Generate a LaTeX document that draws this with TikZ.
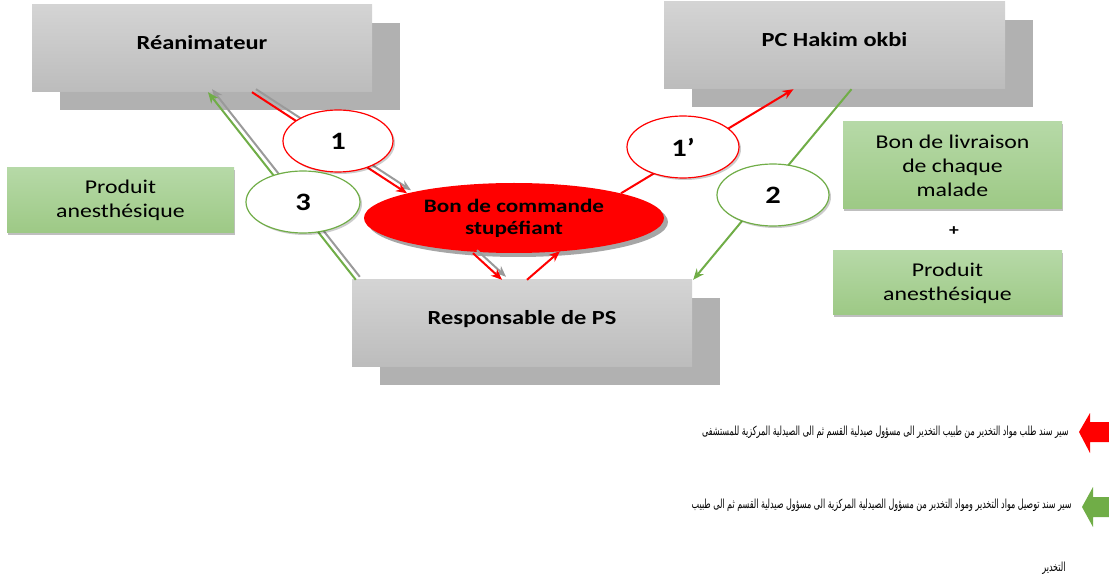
\documentclass[tikz,border=0pt]{standalone}
\usepackage{fontspec}
\setmainfont{Carlito}[FakeStretch=1.22]
\newfontfamily\arabicfont[Script=Arabic, FakeStretch=0.64]{DejaVu Sans}
\TeXXeTstate=1
\usepackage{xcolor}
\usetikzlibrary{
    arrows.meta,
    shapes,
    shadows
}
\definecolor{boxtop}{HTML}{D4D4D4}
\definecolor{boxbot}{HTML}{BCBCBC}
\definecolor{boxshade}{HTML}{B1B1B1}
\definecolor{greentop}{HTML}{B6D9A7}
\definecolor{greenbot}{HTML}{9DC985}
\definecolor{linegreen}{HTML}{70AD47}
\definecolor{linegray}{HTML}{9A9A9A}
\tikzset{
    agentbox/.style={rectangle, top color=boxtop, bottom color=boxbot, minimum width=340pt, minimum height=87pt, inner sep=0pt, text depth=12pt, font=\fontsize{20}{24}\selectfont\bfseries, general shadow={fill=boxshade, shadow xshift=28pt, shadow yshift=-18pt}},
    notebox/.style={rectangle, top color=greentop, bottom color=greenbot, inner sep=0pt, align=center, font=\fontsize{19.5}{24}\selectfont, drop shadow={shadow xshift=1pt, shadow yshift=-2pt, fill=black, opacity=.25}},
    stepmark/.style={ellipse, fill=white, line width=1.2pt, minimum width=112pt, minimum height=62pt, inner sep=0pt, font=\fontsize{25}{28}\selectfont\bfseries, drop shadow={shadow xshift=2pt, shadow yshift=-2pt, fill=black, opacity=.2}},
    flow/.style={->, >={Stealth[length=11pt, width=9pt]}, line width=2pt},
    flowshade/.style={flow, linegray, transform canvas={xshift=4pt, yshift=3pt}},
    legendtext/.style={anchor=east, font=\arabicfont\fontsize{12.5}{14}\selectfont}
}
\begin{document}
\begin{tikzpicture}[x=1pt, y=-1pt]
            \useasboundingbox (0,0) rectangle (1109,585);
            
            \node[agentbox] (rea) at (202, 48.5) {Réanimateur};
            \node[agentbox, minimum width=341pt] (pc) at (834.5, 45.5) {PC Hakim okbi};
            \node[agentbox] (resp) at (522, 323.5) {Responsable de PS};
            
            \node[ellipse, fill=red, minimum width=300pt, minimum height=70pt, inner sep=0pt, align=center, font=\fontsize{19}{22}\selectfont\bfseries, drop shadow={shadow xshift=4pt, shadow yshift=-4pt, fill=black, opacity=.35}] (bon) at (514, 218) {Bon de commande\\stupéfiant};
            
            \node[notebox, minimum width=227pt, minimum height=65pt] (prodL) at (120.5, 200.5) {Produit\\anesthésique};
            \node[notebox, minimum width=219pt, minimum height=87pt] (livr) at (952.5, 165.5) {Bon de livraison\\de chaque\\malade};
            \node[font=\fontsize{16}{18}\selectfont\bfseries] (plus) at (954, 231) {+};
            \node[notebox, minimum width=229pt, minimum height=64pt] (prodR) at (947.5, 283) {Produit\\anesthésique};
            
            % shadow lines
            \draw[flowshade] ([xshift=50pt]rea.south)--(bon.167);
            \draw[flowshade] ([xshift=4pt]resp.north west)--([xshift=6pt]rea.south);
            \draw[flowshade] ([xshift=-41pt]bon.south)--([xshift=-20pt]resp.north);
            
            \draw[flow, red] ([xshift=50pt]rea.south)--(bon.167);
            \draw[flow, linegreen] ([xshift=4pt]resp.north west)--([xshift=6pt]rea.south);
            \draw[flow, red] ([xshift=-41pt]bon.south)--([xshift=-20pt]resp.north);
            \draw[flow, red] ([xshift=5pt]resp.north)--([xshift=46pt, yshift=2pt]bon.south);
            \draw[flow, red] (bon.13)--([xshift=-41pt]pc.south);
            \draw[flow, linegreen] ([xshift=17pt]pc.south)--([xshift=1pt]resp.north east);
            
            \node[stepmark, draw=red, minimum width=110pt] (s1) at (338, 141) {1};
            \node[stepmark, draw=linegreen, minimum width=114pt] (s3) at (303, 202) {3};
            \node[stepmark, draw=red] (s1p) at (683, 147) {1’};
            \node[stepmark, draw=linegreen] (s2) at (773, 195) {2};
            
            % legend
            \fill[red] (1079,432) -- (1090,413) -- (1090,422) -- (1109,422) -- (1109,442) -- (1090,442) -- (1090,453) -- cycle;
            \fill[linegreen] (1082,507) -- (1093,487) -- (1093,497) -- (1109,497) -- (1109,517) -- (1093,517) -- (1093,527) -- cycle;
            \node[legendtext] (leg1) at (1072, 432) {\beginR سير سند طلب مواد التخدير من طبيب التخدير الى مسؤول صيدلية القسم ثم الى الصيدلية المركزية للمستشفى\endR};
            \node[legendtext] (leg2) at (1075, 505) {\beginR سير سند توصيل مواد التخدير ومواد التخدير من مسؤول الصيدلية المركزية الى مسؤول صيدلية القسم ثم الى طبيب\endR};
            \node[legendtext] (leg3) at (1069, 568) {\beginR التخدير\endR};
\end{tikzpicture}
\end{document}
